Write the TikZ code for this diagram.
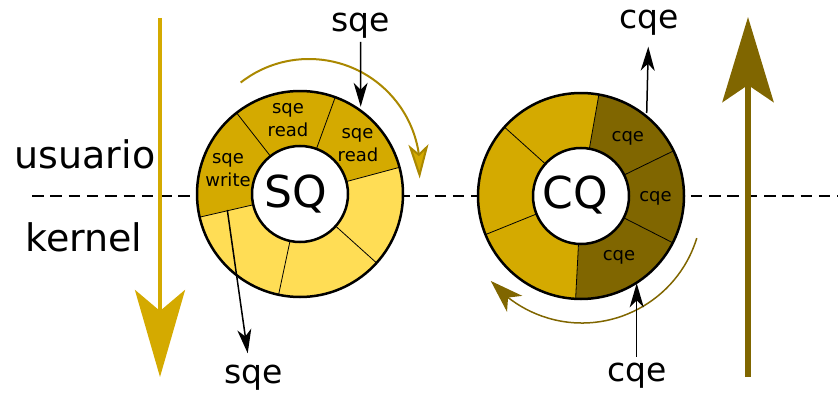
\documentclass[tikz,border=0pt]{standalone}
\usepackage{fontspec}
\setmainfont{DejaVu Sans}
\usetikzlibrary{arrows.meta,bending}
\definecolor{gold}{HTML}{D4AA00}
\definecolor{lightgold}{HTML}{FFDD55}
\definecolor{darkgold}{HTML}{806600}
\definecolor{arcgold}{HTML}{AA8800}
\newcommand\ringseg[4]{\fill[#4] (#1) -- ++(#2:103) arc[start angle=#2, end angle=#3, radius=103] -- cycle;}
\newcommand\ringdiv[2]{\draw[divider] (#1) ++(#2:48) -- ++(#2:55);}
\begin{document}
\begin{tikzpicture}[x=1pt,y=1pt,
  lbl/.style={anchor=base, inner sep=0pt, font=\fontsize{33}{40}\selectfont},
  side/.style={anchor=base, inner sep=0pt, font=\fontsize{38}{46}\selectfont},
  small/.style={anchor=base, inner sep=0pt, font=\fontsize{18}{22}\selectfont},
  big/.style={anchor=base, inner sep=0pt, font=\fontsize{44}{52}\selectfont},
  ptr/.style={line width=1.5pt, -{Stealth[length=24pt,width=14pt,inset=7pt]}},
  divider/.style={line width=0.8pt},
  ring/.style={line width=2.5pt},
  inner/.style={circle, draw, fill=white, line width=2.5pt, minimum size=96pt, inner sep=0pt}]
\useasboundingbox (0,0) rectangle (838,392);

% boundary line
\coordinate (dashL) at (32,196);
\coordinate (dashR) at (838,196);
\draw[line width=2pt, dash pattern=on 11.5pt off 6.8pt] (dashL) -- (dashR);

% big arrows
\coordinate (downS) at (160,374);
\coordinate (downE) at (160,15);
\draw[gold, line width=4.5pt, -{Stealth[length=87pt,width=50pt,inset=21pt]}] (downS) -- (downE);
\coordinate (upS) at (748,15);
\coordinate (upE) at (748,375);
\draw[darkgold, line width=6.5pt, -{Stealth[length=85pt,width=51pt,inset=17pt]}] (upS) -- (upE);

% SQ ring
\coordinate (sqc) at (300,198);
\ringseg{sqc}{15}{70}{gold}
\ringseg{sqc}{70}{128}{gold}
\ringseg{sqc}{128}{193}{gold}
\ringseg{sqc}{193}{258}{lightgold}
\ringseg{sqc}{258}{318}{lightgold}
\ringseg{sqc}{318}{375}{lightgold}
\foreach \a in {15,70,128,193,258,318} {\ringdiv{sqc}{\a}}
\draw[ring] (sqc) circle[radius=103];
\node[inner] (sqin) at (sqc) {};

% CQ ring
\coordinate (cqc) at (581,196);
\ringseg{cqc}{-93}{-27}{darkgold}
\ringseg{cqc}{-27}{26}{darkgold}
\ringseg{cqc}{26}{80}{darkgold}
\ringseg{cqc}{80}{138}{gold}
\ringseg{cqc}{138}{202}{gold}
\ringseg{cqc}{202}{267}{gold}
\foreach \a in {80,26,-27,-93,202,138} {\ringdiv{cqc}{\a}}
\draw[ring] (cqc) circle[radius=103];
\node[inner] (cqin) at (cqc) {};

% rotation arcs
\coordinate (sqarc) at (309,222);
\draw[arcgold, line width=2pt, -{Stealth[length=34pt,width=20pt,inset=9pt,fill=gold,flex]}] (sqarc) ++(128:111) arc[start angle=128, end angle=-4.4, radius=111];
\coordinate (cqarc) at (582,189);
\draw[darkgold, line width=1.5pt, -{Stealth[length=33pt,width=22pt,inset=9pt,flex]}] (cqarc) ++(-17:120) arc[start angle=-17, end angle=-139.5, radius=120];

% texts
\node[side] (usuario) at (85,223.7) {usuario};
\node[side] (kernel) at (84,140.3) {kernel};
\node[big] (sqt) at (295.5,185) {SQ};
\node[big] (cqt) at (575.5,184) {CQ};
\node[lbl] (sqtop) at (360.5,360.3) {sqe};
\node[lbl] (cqtop) at (649,363.7) {cqe};
\node[lbl] (sqbot) at (253.7,9) {sqe};
\node[lbl] (cqbot) at (636.7,10.3) {cqe};

\node[small] (r1a) at (288,279) {sqe};
\node[small] (r1b) at (288,256) {read};
\node[small] (r2a) at (357.5,254) {sqe};
\node[small] (r2b) at (358,230.3) {read};
\node[small] (w1a) at (228,229) {sqe};
\node[small] (w1b) at (228,205.3) {write};
\node[small] (c1) at (627.8,250.3) {cqe};
\node[small] (c2) at (655.5,190.3) {cqe};
\node[small] (c3) at (619,132) {cqe};

% pointers
\coordinate (sqtopT) at (360.7,285.3);
\draw[ptr, shorten <=3pt] (sqtop.south) -- (sqtopT);
\coordinate (sqbotS) at (227.3,182);
\coordinate (sqbotT) at (247.7,38.7);
\draw[ptr] (sqbotS) -- (sqbotT);
\coordinate (cqtopS) at (646.7,279);
\coordinate (cqtopT) at (648.3,345.3);
\draw[ptr] (cqtopS) -- (cqtopT);
\coordinate (cqbotS) at (636.7,35.3);
\coordinate (cqbotT) at (636.7,108.7);
\draw[ptr] (cqbotS) -- (cqbotT);
\end{tikzpicture}
\end{document}
